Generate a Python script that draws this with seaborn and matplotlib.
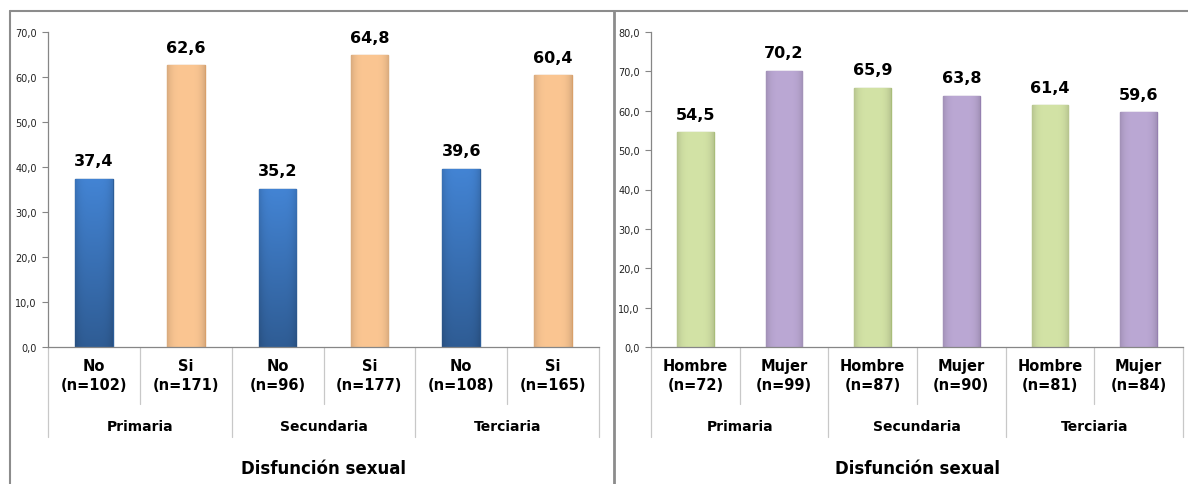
import matplotlib
matplotlib.use('Agg')
import matplotlib.pyplot as plt
import matplotlib.transforms as mtransforms
from matplotlib.lines import Line2D
from matplotlib.ticker import FuncFormatter, MultipleLocator
import numpy as np
import pandas as pd
import seaborn as sns

# datos
groups = ['Primaria', 'Secundaria', 'Terciaria']

left_labels = ['No\n(n=102)', 'Si\n(n=171)', 'No\n(n=96)', 'Si\n(n=177)', 'No\n(n=108)', 'Si\n(n=165)']
left_kind = ['No', 'Si', 'No', 'Si', 'No', 'Si']
left_values = [37.4, 62.6, 35.2, 64.8, 39.6, 60.4]

right_labels = ['Hombre\n(n=72)', 'Mujer\n(n=99)', 'Hombre\n(n=87)', 'Mujer\n(n=90)', 'Hombre\n(n=81)', 'Mujer\n(n=84)']
right_kind = ['Hombre', 'Mujer', 'Hombre', 'Mujer', 'Hombre', 'Mujer']
right_values = [54.5, 70.2, 65.9, 63.8, 61.4, 59.6]

sns.set_style('white')
plt.rcParams['font.family'] = ['DejaVu Sans']
plt.rcParams['text.color'] = 'black'
plt.rcParams['xtick.color'] = 'black'
plt.rcParams['ytick.color'] = 'black'

fig = plt.figure(figsize=(11.88, 4.85), dpi=100)

coma = FuncFormatter(lambda v, p: f'{v:.1f}'.replace('.', ','))


def sombrear(ax, p, color, vert):
    # efecto de relieve sencillo sobre cada barra
    x0, y0 = p.get_x(), p.get_y()
    w, h = p.get_width(), p.get_height()
    rgb = np.array(matplotlib.colors.to_rgb(color))
    xs = np.linspace(-1, 1, 40)
    ys = np.linspace(0, 1, 80)[:, None]
    fh = 1 - 0.13 * np.abs(xs) ** 4
    fv = 1 - vert * ys  # fila 0 = arriba, más oscuro abajo
    img = np.clip(rgb[None, None, :] * (fh[None, :, None] * fv[:, :, None]), 0, 1)
    im = ax.imshow(img, extent=[x0, x0 + w, y0, y0 + h], origin='upper', aspect='auto',
                   zorder=p.get_zorder() + 0.1, interpolation='bilinear')
    im.set_clip_path(p)


def panel(rect, labels, kind, values, palette, ymax, edges, vert):
    ax = fig.add_axes(rect)
    df = pd.DataFrame({'cat': labels, 'kind': kind, 'val': values})
    df['pos'] = range(len(df))
    sns.barplot(data=df, x='pos', y='val', hue='kind', palette=palette,
                dodge=False, width=0.41, legend=False, ax=ax, saturation=1)
    for p in list(ax.patches):
        fc = p.get_facecolor()
        for key, ec in edges.items():
            if np.allclose(fc[:3], matplotlib.colors.to_rgb(palette[key])):
                p.set_edgecolor(ec)
                p.set_linewidth(1.0)
                sombrear(ax, p, palette[key], vert[key])
    for i, v in enumerate(values):
        ax.text(i, v + ymax * 0.033, f'{v:.1f}'.replace('.', ','), ha='center', va='bottom',
                fontsize=11.5, fontweight='bold', color='black')
    ax.set_xlim(-0.5, len(values) - 0.5)
    ax.set_ylim(0, ymax)
    ax.yaxis.set_major_locator(MultipleLocator(10))
    ax.yaxis.set_major_formatter(coma)
    ax.set_xticks(range(len(labels)))
    ax.set_xticklabels(labels, fontsize=10.5, fontweight='bold', linespacing=1.35)
    ax.tick_params(axis='x', length=0, pad=8)
    ax.tick_params(axis='y', length=4, width=0.8, color='#868686', labelsize=7, labelcolor='#222222',
                   direction='out', left=True, pad=4)
    ax.set_xlabel('')
    ax.set_ylabel('')
    for s in ['top', 'right']:
        ax.spines[s].set_visible(False)
    for s in ['left', 'bottom']:
        ax.spines[s].set_color('#868686')
        ax.spines[s].set_linewidth(0.9)
        ax.spines[s].set_zorder(5)

    trans = mtransforms.blended_transform_factory(ax.transData, ax.transAxes)
    for x in [0.5, 2.5, 4.5]:
        ax.plot([x, x], [0, -0.181], transform=trans, color='#c8c8c8', lw=0.9, clip_on=False)
    for x in [-0.5, 1.5, 3.5, 5.5]:
        ax.plot([x, x], [0, -0.286], transform=trans, color='#c8c8c8', lw=0.9, clip_on=False)
    for j, g in enumerate(groups):
        ax.text(2 * j + 0.5, -0.25, g, transform=trans, ha='center', va='center',
                fontsize=10, fontweight='bold')
    ax.text(0.5, -0.385, 'Disfunción sexual', transform=ax.transAxes, ha='center', va='center',
            fontsize=12, fontweight='bold')
    return ax


panel([48 / 1188, 137 / 485, 551 / 1188, 315 / 485], left_labels, left_kind, left_values,
      {'No': '#4384d4', 'Si': '#fbc692'}, 70,
      {'No': '#2c5d98', 'Si': '#d9a06a'}, {'No': 0.3, 'Si': 0.0})
panel([651 / 1188, 137 / 485, 532 / 1188, 315 / 485], right_labels, right_kind, right_values,
      {'Hombre': '#d3e3a6', 'Mujer': '#bba8d4'}, 80,
      {'Hombre': '#a9bd7a', 'Mujer': '#9580b0'}, {'Hombre': 0.0, 'Mujer': 0.0})

# marco
fig.add_artist(Line2D([10 / 1188, 1], [1 - 12 / 485, 1 - 12 / 485], color='#8c8c8c', lw=1.5))
fig.add_artist(Line2D([10 / 1188, 10 / 1188], [0, 1 - 12 / 485], color='#8c8c8c', lw=1.5))
fig.add_artist(Line2D([614 / 1188, 614 / 1188], [0, 1 - 12 / 485], color='#8c8c8c', lw=2))

fig.savefig('out.png', dpi=100)
